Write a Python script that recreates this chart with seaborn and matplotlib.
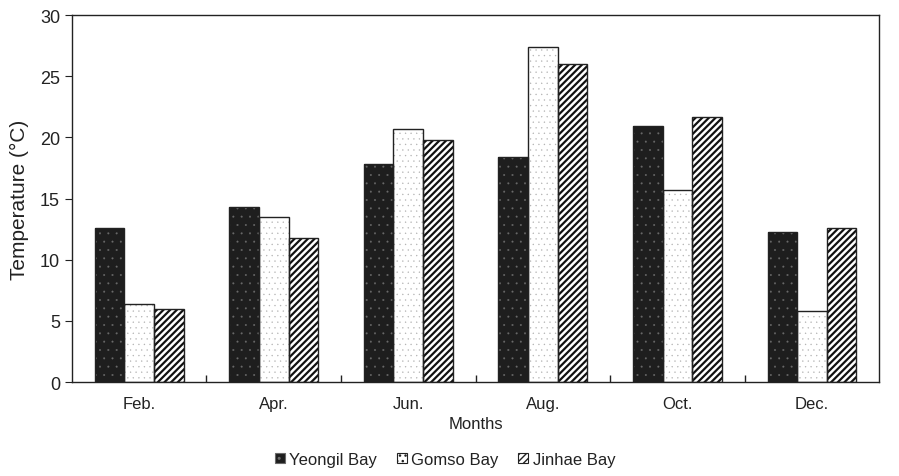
import numpy as np
import pandas as pd
import seaborn as sns
from matplotlib import pyplot as plt
from matplotlib.ticker import FixedLocator

months = ["Feb.", "Apr.", "Jun.", "Aug.", "Oct.", "Dec."]
yeongil = [12.6, 14.3, 17.8, 18.4, 20.9, 12.3]
gomso = [6.4, 13.5, 20.7, 27.4, 15.7, 5.8]
jinhae = [6.0, 11.8, 19.8, 26.0, 21.7, 12.6]
bays = ["Yeongil Bay", "Gomso Bay", "Jinhae Bay"]

df = pd.DataFrame({
    "month": months * 3,
    "bay": np.repeat(bays, len(months)),
    "temp": yeongil + gomso + jinhae,
})

sns.set_style("ticks")
plt.rcParams["font.family"] = ["Liberation Sans", "DejaVu Sans"]

fig = plt.figure(figsize=(8.99, 4.77), dpi=100)
ax = fig.add_axes([0.080, 0.197, 0.898, 0.769])

sns.barplot(data=df, x="month", y="temp", hue="bay", order=months, hue_order=bays,
            width=0.66, ax=ax, legend=False, saturation=1)

# face, hatch color, hatch, hatch linewidth
styles = {
    "Yeongil Bay": ("#1e1e1e", "#6a6a6a", "..", 0.2),
    "Gomso Bay": ("white", "#b0b0b0", "...", 0.2),
    "Jinhae Bay": ("white", "#111111", "/////", 1.6),
}


def style_patch(p, bay):
    face, ec, hatch, hlw = styles[bay]
    p.set_facecolor(face)
    p.set_edgecolor(ec)
    p.set_hatch(hatch)
    p.set_linewidth(0)
    if hasattr(p, "set_hatch_linewidth"):
        p.set_hatch_linewidth(hlw)


for container, bay in zip(ax.containers, bays):
    for bar in container:
        style_patch(bar, bay)
        ax.add_patch(plt.Rectangle(bar.get_xy(), bar.get_width(), bar.get_height(),
                                   fill=False, edgecolor="#222222", linewidth=1.0, zorder=3))

ax.set_ylim(0, 30)
ax.set_xlim(-0.5, 5.5)
ax.set_yticks(range(0, 31, 5))
ax.xaxis.set_minor_locator(FixedLocator(np.arange(0.5, 5, 1)))
ax.tick_params(axis="x", which="major", length=0, labelsize=12, pad=10, labelcolor="#222222")
ax.tick_params(axis="x", which="minor", direction="in", length=5, width=1, color="#222222")
ax.tick_params(axis="y", direction="out", length=5, labelsize=13, color="#222222", labelcolor="#222222")
for s in ax.spines.values():
    s.set_visible(True)
    s.set_linewidth(1.0)
    s.set_color("#222222")

ax.set_xlabel("Months", fontsize=12, labelpad=4, color="#222222")
ax.set_ylabel("Temperature (°C)", fontsize=15, labelpad=8, color="#222222")

handles = []
for bay in bays:
    h = plt.Rectangle((0, 0), 1, 1)
    style_patch(h, bay)
    h.set_linewidth(0.8)
    if bay != "Yeongil Bay":
        h.set_edgecolor("#222222")
    handles.append(h)
fig.legend(handles, bays, loc="lower center", bbox_to_anchor=(0.495, -0.012), ncol=3, frameon=False,
           fontsize=12, handlelength=0.6, handleheight=0.6, handletextpad=0.25, columnspacing=1.2,
           labelcolor="#222222")

fig.savefig("out.png", dpi=100)
